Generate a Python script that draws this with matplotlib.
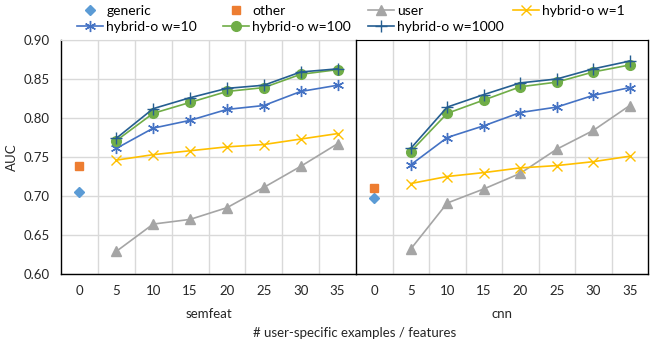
import matplotlib
matplotlib.use("Agg")
import matplotlib.pyplot as plt

plt.rcParams['font.family'] = ['Lato', 'DejaVu Sans']

ticks = [0, 5, 10, 15, 20, 25, 30, 35]
n_user = [5, 10, 15, 20, 25, 30, 35]
groups = ['semfeat', 'cnn']

generic = {'semfeat': 0.705, 'cnn': 0.697}
other = {'semfeat': 0.739, 'cnn': 0.710}

user = {
    'semfeat': [0.629, 0.664, 0.670, 0.685, 0.711, 0.738, 0.767],
    'cnn': [0.632, 0.691, 0.709, 0.729, 0.760, 0.784, 0.816],
}
w1 = {
    'semfeat': [0.746, 0.753, 0.758, 0.763, 0.766, 0.773, 0.780],
    'cnn': [0.716, 0.725, 0.730, 0.736, 0.739, 0.744, 0.751],
}
w10 = {
    'semfeat': [0.761, 0.787, 0.797, 0.811, 0.816, 0.834, 0.842],
    'cnn': [0.740, 0.775, 0.790, 0.807, 0.814, 0.829, 0.839],
}
w100 = {
    'semfeat': [0.771, 0.806, 0.820, 0.834, 0.839, 0.856, 0.862],
    'cnn': [0.757, 0.806, 0.823, 0.840, 0.846, 0.859, 0.868],
}
w1000 = {
    'semfeat': [0.774, 0.812, 0.826, 0.838, 0.842, 0.859, 0.863],
    'cnn': [0.761, 0.814, 0.830, 0.845, 0.850, 0.863, 0.873],
}

styles = [
    ('user', user, '#A5A5A5', '^', 7),
    ('hybrid-o w=1', w1, '#FFC000', 'x', 7),
    ('hybrid-o w=10', w10, '#4472C4', (6, 2, 0), 8),
    ('hybrid-o w=100', w100, '#70AD47', 'o', 7),
    ('hybrid-o w=1000', w1000, '#255E91', '+', 9),
]

fig = plt.figure(figsize=(6.57, 3.45), dpi=100)
W, H = 657, 345
x0, x1, xmid = 61, 648, 356
ytop, ybot = 40, 274
axes = [
    fig.add_axes([x0 / W, 1 - ybot / H, (xmid - x0) / W, (ybot - ytop) / H]),
    fig.add_axes([xmid / W, 1 - ybot / H, (x1 - xmid) / W, (ybot - ytop) / H]),
]

handles = {}
for ax, g in zip(axes, groups):
    pos = {t: i for i, t in enumerate(ticks)}
    xs = [pos[n] for n in n_user]
    h, = ax.plot([pos[0]], [generic[g]], linestyle='none', marker='D',
                 color='#5B9BD5', markersize=5, label='generic')
    handles['generic'] = h
    h, = ax.plot([pos[0]], [other[g]], linestyle='none', marker='s',
                 color='#ED7D31', markersize=6, label='other')
    handles['other'] = h
    for name, data, col, mk, ms in styles:
        h, = ax.plot(xs, data[g], color=col, marker=mk, markersize=ms,
                     linewidth=1.2, markeredgewidth=1.0, label=name)
        handles[name] = h

    ax.set_xlim(-0.5, len(ticks) - 0.5)
    ax.set_ylim(0.60, 0.90)
    ax.set_xticks(range(len(ticks)))
    ax.set_xticklabels([str(t) for t in ticks])
    ax.set_xticks([i + 0.5 for i in range(len(ticks) - 1)], minor=True)
    ax.set_yticks([0.60, 0.65, 0.70, 0.75, 0.80, 0.85, 0.90])
    ax.grid(True, which='minor', axis='x', color='#D9D9D9', linewidth=1)
    ax.grid(True, which='major', axis='y', color='#D9D9D9', linewidth=1)
    ax.set_axisbelow(True)
    ax.tick_params(which='both', length=0, labelsize=9.5, colors='#262626', pad=8)
    ax.set_xlabel(g, fontsize=9.5, color='#262626', labelpad=8)
    for s in ['left', 'bottom', 'right']:
        ax.spines[s].set_color('black')
        ax.spines[s].set_linewidth(1)

axes[0].yaxis.set_major_formatter(plt.FuncFormatter(lambda v, p: f'{v:.2f}'))
axes[0].set_ylabel('AUC', fontsize=9.5, color='#262626', labelpad=4)
axes[0].spines['right'].set_visible(False)
axes[0].spines['top'].set_color('#D9D9D9')
axes[1].spines['top'].set_color('black')
axes[1].tick_params(axis='y', labelleft=False)

# legend: two rows, four columns placed like the original
legend_cols = [
    (77, ['generic', 'hybrid-o w=10']),
    (223, ['other', 'hybrid-o w=100']),
    (368, ['user', 'hybrid-o w=1000']),
    (513, ['hybrid-o w=1']),
]
for lx, names in legend_cols:
    fig.legend([handles[k] for k in names], names, loc='upper left',
               bbox_to_anchor=(lx / W, 1 - 5 / H), ncol=1, frameon=False,
               fontsize=10, handlelength=1.9, handletextpad=0.2,
               labelspacing=0.3, borderpad=0, borderaxespad=0)

fig.text((x0 + x1) / 2 / W, 1 - 333 / H, '# user-specific examples / features',
         ha='center', va='center', fontsize=9.5, color='#262626')

fig.savefig('out.png', dpi=100)
